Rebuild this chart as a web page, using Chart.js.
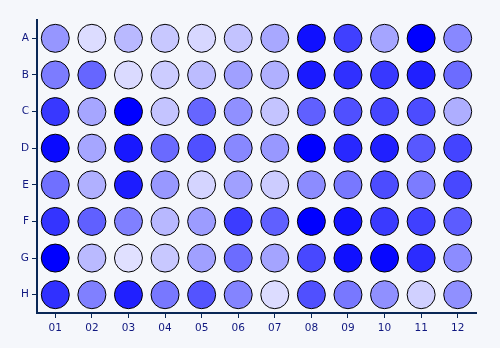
<!DOCTYPE html>
<html>
<head>
<meta charset="utf-8">
<script src="https://cdn.jsdelivr.net/npm/chart.js@4"></script>
<style>
body { margin: 0; background: #f5f7fb; }
#wrap { width: 500px; height: 348px; }
</style>
</head>
<body>
<div id="wrap"><canvas id="myChart" width="500" height="348"></canvas></div>
<script>
const rows = ['A', 'B', 'C', 'D', 'E', 'F', 'G', 'H'];
const cols = ['01', '02', '03', '04', '05', '06', '07', '08', '09', '10', '11', '12'];

// intensity per well, 0 = white .. 255 = full blue
const rowA = [105, 35, 70, 55, 40, 60, 87, 239, 191, 90, 255, 119];
const rowB = [131, 153, 37, 51, 67, 95, 79, 229, 207, 199, 223, 147];
const rowC = [199, 89, 255, 59, 153, 111, 59, 159, 175, 185, 179, 81];
const rowD = [245, 89, 231, 149, 175, 119, 103, 255, 215, 223, 167, 187];
const rowE = [143, 79, 227, 103, 43, 95, 51, 115, 135, 179, 131, 183];
const rowF = [203, 159, 127, 71, 99, 195, 159, 255, 235, 197, 191, 163];
const rowG = [255, 69, 31, 55, 95, 147, 91, 183, 239, 247, 211, 115];
const rowH = [207, 127, 223, 135, 171, 123, 35, 175, 135, 111, 47, 111];

const plate = [rowA, rowB, rowC, rowD, rowE, rowF, rowG, rowH];

const points = [];
const colors = [];
plate.forEach((vals, i) => {
	vals.forEach((v, j) => {
		points.push({ x: cols[j], y: rows[i] });
		const c = 255 - v;
		colors.push('rgb(' + c + ',' + c + ',255)');
	});
});

const axisColor = '#0a2756';
const labelColor = '#101880';

const ctx = document.getElementById('myChart');

new Chart(ctx, {
	type: 'scatter',
	data: {
		datasets: [{
			data: points,
			backgroundColor: colors,
			borderColor: '#000',
			borderWidth: 1,
			pointRadius: 14,
			pointHoverRadius: 14,
		}]
	},
	options: {
		responsive: false,
		animation: false,
		layout: {
			padding: { top: 20, right: 24, left: 0, bottom: 0 }
		},
		plugins: {
			legend: { display: false },
			tooltip: { enabled: false },
		},
		scales: {
			x: {
				type: 'category',
				labels: cols,
				offset: true,
				grid: {
					offset: false,
					drawOnChartArea: false,
					color: axisColor,
					tickLength: 5,
					tickWidth: 1,
				},
				border: { color: axisColor, width: 2 },
				ticks: {
					color: labelColor,
					font: { family: 'DejaVu Sans', size: 10.5 },
					padding: 4,
					maxRotation: 0,
				},
				afterFit: (s) => { s.height = 35; },
			},
			y: {
				type: 'category',
				labels: rows,
				offset: true,
				grid: {
					offset: false,
					drawOnChartArea: false,
					color: axisColor,
					tickLength: 5,
					tickWidth: 1,
				},
				border: { color: axisColor, width: 2 },
				ticks: {
					color: labelColor,
					font: { family: 'DejaVu Sans', size: 10.5 },
					padding: 3,
				},
				afterFit: (s) => { s.width = 37; },
			}
		}
	}
});
</script>
</body>
</html>
